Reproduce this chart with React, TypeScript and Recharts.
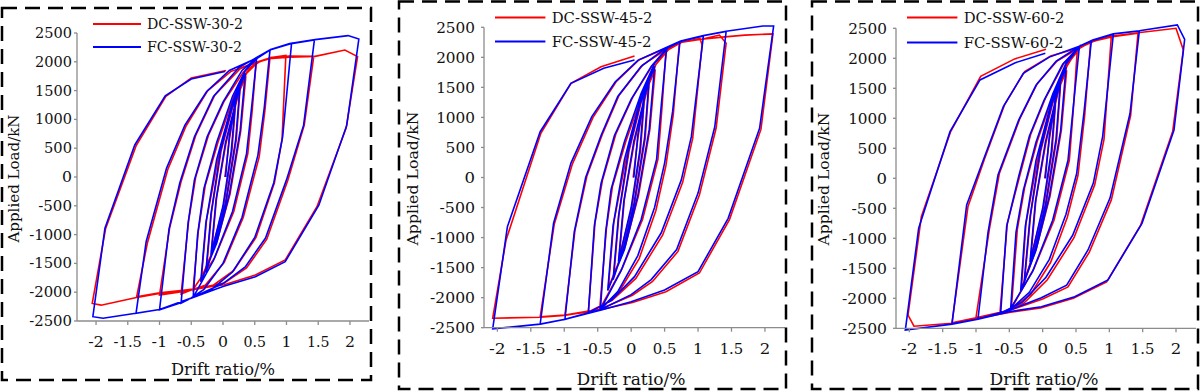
import React from 'react';
import { LineChart, Line, XAxis, YAxis } from 'recharts';

type Point = [number, number];

const driftTicks = [-2, -1.5, -1, -0.5, 0, 0.5, 1, 1.5, 2];
const loadTicks = [-2500, -2000, -1500, -1000, -500, 0, 500, 1000, 1500, 2000, 2500];

// [drift ratio %, applied load kN], in loading order
const dc30: Point[] = [
  [0.03, 0], [0.1, 650], [0.2, 1300], [0.14, 450], [0.01, -500], [-0.18, -1300], [-0.1, -350], [0.05, 600],
  [0.27, 1550], [0.21, 650], [0.05, -450], [-0.11, -1100], [-0.26, -1600], [-0.18, -600], [-0.03, 450], [0.15, 1200],
  [0.36, 1750], [0.28, 800], [0.11, -300], [-0.09, -1100], [-0.34, -1750], [-0.26, -750], [-0.08, 300], [0.17, 1300], [0.37, 1800],
  [0.52, 1960], [0.46, 1150], [0.39, 400], [0.17, -600], [-0.13, -1400], [-0.47, -1950], [-0.39, -950], [-0.28, -150], [-0.08, 600], [0.17, 1400], [0.37, 1820], [0.56, 1990],
  [0.74, 2070], [0.66, 1150], [0.57, 350], [0.32, -700], [0.02, -1480], [-0.28, -1880], [-0.5, -1960], [-0.66, -2030], [-0.54, -750], [-0.43, 0], [-0.23, 720], [0.02, 1320], [0.32, 1820], [0.55, 1990], [0.76, 2075],
  [0.99, 2110], [0.93, 650], [0.81, -100], [0.52, -1050], [0.17, -1620], [-0.18, -1900], [-0.5, -1960], [-0.7, -2000], [-1.0, -2050], [-0.84, -880], [-0.66, -80], [-0.43, 720], [-0.13, 1420], [0.27, 1880], [0.55, 2000], [0.77, 2080], [1.05, 2100],
  [1.43, 2095], [1.28, 900], [1.02, -60], [0.69, -1080], [0.37, -1580], [0.02, -1840], [-0.48, -1950], [-1.0, -2010], [-1.36, -2080], [-1.19, -1140], [-0.87, 130], [-0.58, 890], [-0.24, 1500], [0.12, 1830], [0.52, 1990], [0.77, 2060], [1.05, 2080], [1.45, 2095],
  [1.92, 2205], [2.12, 2090], [1.94, 850], [1.48, -515], [0.98, -1441], [0.51, -1700], [0.02, -1870], [-0.47, -1945], [-1.0, -2020], [-1.4, -2100], [-1.92, -2225], [-2.06, -2195], [-1.85, -900], [-1.37, 540], [-0.9, 1400], [-0.5, 1720], [0.05, 1850],
];

const fc30: Point[] = [
  [0.04, 0], [0.1, 700], [0.2, 1350], [0.13, 450], [0, -500], [-0.19, -1350], [-0.11, -400], [0.04, 600],
  [0.27, 1600], [0.2, 650], [0.04, -450], [-0.12, -1150], [-0.27, -1650], [-0.19, -650], [-0.04, 450], [0.14, 1200],
  [0.35, 1800], [0.27, 800], [0.1, -300], [-0.1, -1150], [-0.35, -1820], [-0.27, -800], [-0.1, 300], [0.15, 1300], [0.35, 1850],
  [0.53, 2066], [0.45, 1200], [0.37, 400], [0.15, -600], [-0.15, -1450], [-0.47, -2090], [-0.4, -1000], [-0.3, -200], [-0.1, 600], [0.15, 1400], [0.35, 1850], [0.55, 2070],
  [0.74, 2205], [0.65, 1200], [0.55, 380], [0.3, -700], [0, -1500], [-0.3, -1950], [-0.5, -2100], [-0.66, -2190], [-0.55, -800], [-0.45, -50], [-0.25, 700], [0, 1300], [0.3, 1850], [0.53, 2070], [0.75, 2210],
  [1.08, 2320], [0.94, 700], [0.8, -100], [0.5, -1050], [0.15, -1650], [-0.2, -1970], [-0.5, -2100], [-0.7, -2195], [-1.0, -2305], [-0.85, -900], [-0.68, -100], [-0.45, 700], [-0.15, 1400], [0.25, 1900], [0.53, 2075], [0.75, 2215], [1.05, 2310],
  [1.44, 2380], [1.27, 900], [1.0, -50], [0.67, -1060], [0.35, -1560], [0, -1850], [-0.5, -2100], [-1.0, -2300], [-1.37, -2366], [-1.21, -1120], [-0.89, 150], [-0.6, 900], [-0.26, 1480], [0.1, 1850], [0.5, 2050], [0.75, 2215], [1.05, 2315], [1.45, 2385], [1.68, 2415],
  [1.97, 2455], [2.14, 2396], [1.95, 900], [1.51, -490], [0.98, -1470], [0.51, -1730], [0, -1900], [-0.47, -2090], [-1.0, -2300], [-1.4, -2370], [-1.89, -2453], [-2.05, -2425], [-1.86, -890], [-1.39, 556], [-0.91, 1411], [-0.5, 1700], [0.03, 1830],
];

const dc45: Point[] = [
  [0.03, 0], [0.1, 650], [0.2, 1350], [0.14, 450], [0.01, -500], [-0.18, -1350], [-0.1, -350], [0.05, 600],
  [0.27, 1600], [0.21, 650], [0.05, -450], [-0.11, -1150], [-0.26, -1650], [-0.18, -600], [-0.03, 450], [0.15, 1250],
  [0.36, 1800], [0.28, 800], [0.11, -300], [-0.09, -1150], [-0.34, -1830], [-0.26, -750], [-0.08, 300], [0.17, 1350], [0.37, 1880],
  [0.52, 2100], [0.46, 1150], [0.4, 300], [0.17, -700], [-0.13, -1500], [-0.47, -2190], [-0.37, -850], [-0.28, -150], [-0.08, 600], [0.17, 1400], [0.37, 1880], [0.56, 2130],
  [0.72, 2230], [0.63, 1050], [0.52, 200], [0.37, -550], [0.12, -1350], [-0.18, -1900], [-0.47, -2190], [-0.64, -2240], [-0.54, -750], [-0.43, -50], [-0.23, 720], [0.02, 1330], [0.32, 1870], [0.55, 2140], [0.76, 2250],
  [1.03, 2316], [1.06, 2205], [0.92, 650], [0.77, -80], [0.47, -960], [0.07, -1680], [-0.28, -2040], [-0.64, -2240], [-0.99, -2290], [-0.84, -880], [-0.66, 30], [-0.43, 720], [-0.18, 1370], [0.17, 1870], [0.52, 2130], [0.76, 2250], [1.05, 2300],
  [1.32, 2371], [1.42, 2233], [1.27, 820], [1.02, -290], [0.7, -1230], [0.32, -1730], [0.02, -1960], [-0.46, -2190], [-0.99, -2290], [-1.36, -2320], [-1.15, -780], [-0.88, 220], [-0.57, 1000], [-0.22, 1600], [0.12, 1960], [0.52, 2150], [0.76, 2250], [1.05, 2300], [1.4, 2340], [1.7, 2370],
  [2.12, 2390], [1.94, 800], [1.47, -700], [1.02, -1590], [0.52, -1900], [0.02, -2080], [-0.46, -2200], [-1.0, -2295], [-1.36, -2325], [-2.07, -2343], [-1.87, -1040], [-1.35, 735], [-0.9, 1567], [-0.45, 1844], [0.05, 2022],
];

const fc45: Point[] = [
  [0.04, 0], [0.1, 700], [0.2, 1400], [0.13, 450], [0, -500], [-0.19, -1400], [-0.11, -400], [0.04, 600],
  [0.27, 1650], [0.2, 650], [0.04, -450], [-0.12, -1200], [-0.27, -1700], [-0.19, -650], [-0.04, 450], [0.14, 1250],
  [0.35, 1850], [0.27, 800], [0.1, -300], [-0.1, -1200], [-0.35, -1880], [-0.27, -800], [-0.1, 300], [0.15, 1350], [0.35, 1900],
  [0.53, 2150], [0.45, 1200], [0.38, 300], [0.15, -700], [-0.15, -1550], [-0.46, -2205], [-0.38, -900], [-0.3, -200], [-0.1, 600], [0.15, 1400], [0.35, 1900], [0.55, 2160],
  [0.73, 2260], [0.62, 1100], [0.5, 240], [0.35, -500], [0.1, -1300], [-0.2, -1900], [-0.46, -2200], [-0.64, -2250], [-0.55, -800], [-0.45, -100], [-0.25, 700], [0, 1300], [0.3, 1850], [0.53, 2150], [0.74, 2265],
  [1.08, 2355], [0.9, 680], [0.75, -40], [0.45, -920], [0.05, -1650], [-0.3, -2050], [-0.64, -2250], [-0.99, -2360], [-0.85, -900], [-0.68, 0], [-0.45, 700], [-0.2, 1350], [0.15, 1850], [0.5, 2140], [0.74, 2265], [1.08, 2360],
  [1.42, 2430], [1.25, 845], [1.0, -260], [0.68, -1200], [0.3, -1700], [0, -1950], [-0.46, -2200], [-0.99, -2360], [-1.36, -2438], [-1.16, -760], [-0.9, 240], [-0.59, 1010], [-0.24, 1590], [0.1, 1950], [0.5, 2150], [0.74, 2270], [1.08, 2365], [1.42, 2435],
  [1.97, 2521], [2.13, 2521], [1.92, 818], [1.45, -680], [1.0, -1567], [0.5, -1872], [0, -2067], [-0.46, -2210], [-1.0, -2365], [-1.36, -2440], [-2.07, -2520], [-1.85, -818], [-1.36, 762], [-0.9, 1567], [-0.41, 1817], [0.05, 1955],
];

const dc60: Point[] = [
  [0.03, 0], [0.1, 650], [0.2, 1350], [0.14, 450], [0.01, -500], [-0.18, -1350], [-0.1, -350], [0.05, 600],
  [0.27, 1600], [0.21, 650], [0.05, -450], [-0.11, -1150], [-0.27, -1700], [-0.18, -600], [-0.03, 450], [0.15, 1250],
  [0.36, 1800], [0.28, 800], [0.11, -300], [-0.09, -1150], [-0.32, -1850], [-0.25, -750], [-0.08, 300], [0.17, 1350], [0.37, 1880],
  [0.52, 2150], [0.46, 1150], [0.4, 300], [0.17, -700], [-0.13, -1500], [-0.47, -2170], [-0.38, -850], [-0.27, -150], [-0.08, 620], [0.17, 1420], [0.37, 1900], [0.56, 2170],
  [0.72, 2270], [0.63, 1050], [0.53, 50], [0.37, -650], [0.12, -1400], [-0.18, -1930], [-0.47, -2180], [-0.64, -2240], [-0.53, -750], [-0.34, 60], [-0.18, 730], [0.04, 1330], [0.32, 1920], [0.56, 2180], [0.76, 2280],
  [1.03, 2370], [0.92, 650], [0.78, -110], [0.47, -990], [0.07, -1690], [-0.28, -2080], [-0.64, -2245], [-1.0, -2320], [-0.8, -850], [-0.65, 80], [-0.34, 1000], [-0.08, 1580], [0.22, 1960], [0.56, 2180], [0.76, 2285], [1.05, 2360],
  [1.43, 2420], [1.32, 1050], [1.03, -360], [0.7, -1230], [0.38, -1810], [0, -2010], [-0.47, -2190], [-1.0, -2325], [-1.36, -2410], [-1.12, -470], [-0.87, 330], [-0.57, 1230], [-0.27, 1780], [0.12, 2040], [0.56, 2180], [0.76, 2290], [1.05, 2370], [1.43, 2425],
  [2.0, 2500], [2.11, 2140], [1.95, 780], [1.47, -780], [0.96, -1725], [0.46, -2000], [-0.03, -2160], [-0.48, -2230], [-0.97, -2330], [-1.36, -2415], [-1.93, -2465], [-2.02, -2280], [-1.82, -640], [-1.38, 780], [-0.93, 1700], [-0.42, 1990], [0.05, 2150],
];

const fc60: Point[] = [
  [0.04, 0], [0.1, 700], [0.2, 1400], [0.13, 450], [0, -500], [-0.19, -1400], [-0.11, -400], [0.04, 600],
  [0.27, 1650], [0.2, 650], [0.04, -450], [-0.12, -1200], [-0.28, -1750], [-0.19, -650], [-0.04, 450], [0.14, 1250],
  [0.35, 1850], [0.27, 800], [0.1, -300], [-0.1, -1200], [-0.33, -1880], [-0.26, -800], [-0.1, 300], [0.15, 1350], [0.35, 1900],
  [0.55, 2193], [0.46, 1200], [0.38, 300], [0.15, -700], [-0.15, -1550], [-0.48, -2170], [-0.4, -900], [-0.29, -200], [-0.1, 600], [0.15, 1400], [0.35, 1920], [0.55, 2195],
  [0.73, 2290], [0.62, 1100], [0.51, 80], [0.35, -600], [0.1, -1350], [-0.2, -1900], [-0.48, -2180], [-0.63, -2250], [-0.54, -800], [-0.36, 30], [-0.2, 700], [0.02, 1300], [0.3, 1900], [0.55, 2200], [0.75, 2295],
  [1.06, 2400], [0.9, 700], [0.76, -80], [0.45, -950], [0.05, -1650], [-0.3, -2060], [-0.63, -2250], [-0.97, -2340], [-0.82, -900], [-0.67, 55], [-0.36, 970], [-0.1, 1550], [0.2, 1950], [0.55, 2200], [0.75, 2300], [1.06, 2405],
  [1.45, 2455], [1.31, 1080], [1.01, -330], [0.68, -1195], [0.36, -1780], [-0.02, -1990], [-0.48, -2190], [-0.97, -2345], [-1.36, -2425], [-1.14, -445], [-0.89, 305], [-0.59, 1194], [-0.29, 1750], [0.1, 2020], [0.55, 2200], [0.75, 2305], [1.06, 2410], [1.45, 2460],
  [2.02, 2555], [2.13, 2317], [1.97, 805], [1.49, -750], [0.98, -1695], [0.48, -1974], [-0.02, -2140], [-0.48, -2220], [-0.97, -2350], [-1.36, -2430], [-2.06, -2530], [-1.86, -833], [-1.39, 777], [-0.94, 1639], [-0.41, 1927], [0.04, 2084],
];

const rows = (pts: Point[]) => pts.map(([drift, load]) => ({ drift, load }));

const FONT = '"DejaVu Serif", serif';
const AXIS = '#8c8c8c';
const INK = '#111';
const RED = '#ff0000';
const BLUE = '#0000ff';
const H = 392;

// advance widths of the tick glyphs, so every label keeps the same set width
const glyphW = (ch: string) => (ch === '-' ? 5.8 : ch === '.' ? 3.5 : 9);
const labelLength = (s: string, k: number) => (Array.from(s).reduce((w, ch) => w + glyphW(ch), 0) + 1) * k;

function makeTick(axis: 'x' | 'y', k: number) {
  return (props: any) => {
    const { x, y, payload } = props;
    const s = String(payload.value);
    return (
      <text
        x={x}
        y={y}
        dy={axis === 'x' ? '0.71em' : '0.355em'}
        textAnchor={axis === 'x' ? 'middle' : 'end'}
        fontFamily={FONT}
        fontSize={14 * k}
        fill={INK}
        textLength={labelLength(s, k)}
        lengthAdjust="spacingAndGlyphs"
      >
        {s}
      </text>
    );
  };
}

interface PanelSpec {
  left: number;
  width: number;
  axisX: number;
  plotRight: number;
  plotTop: number;
  plotBottom: number;
  xDomain: [number, number];
  xTickMargin: number;
  yTickMargin: number;
  k: number;
  dc: Point[];
  fc: Point[];
}

function HysteresisPanel(p: PanelSpec) {
  return (
    <div style={{ position: 'absolute', left: p.left, top: 0 }}>
      <LineChart
        width={p.width}
        height={H}
        margin={{ top: p.plotTop, right: p.left + p.width - p.plotRight, bottom: H - p.plotBottom - 40, left: 0 }}
      >
        <XAxis
          type="number"
          dataKey="drift"
          domain={p.xDomain}
          ticks={driftTicks}
          interval={0}
          height={40}
          tickSize={4}
          tickMargin={p.xTickMargin}
          stroke={AXIS}
          strokeWidth={1.3}
          tick={makeTick('x', p.k)}
        />
        <YAxis
          type="number"
          domain={[-2500, 2500]}
          ticks={loadTicks}
          allowDataOverflow
          interval={0}
          width={p.axisX - p.left}
          tickSize={3}
          tickMargin={p.yTickMargin}
          stroke={AXIS}
          strokeWidth={1.3}
          tick={makeTick('y', p.k)}
        />
        <Line data={rows(p.dc)} dataKey="load" stroke={RED} strokeWidth={1.6} dot={false} isAnimationActive={false} />
        <Line data={rows(p.fc)} dataKey="load" stroke={BLUE} strokeWidth={1.6} dot={false} isAnimationActive={false} />
      </LineChart>
    </div>
  );
}

// frame, legend and axis titles for each panel
const frames = [
  { x: 2, y: 8, w: 369, h: 372 },
  { x: 399, y: 1.5, w: 387, h: 387.5 },
  { x: 812, y: 1.5, w: 386, h: 387.5 },
];
const legends = [
  { x: 93, y1: 24, y2: 47, k: 1, names: ['DC-SSW-30-2', 'FC-SSW-30-2'] },
  { x: 495, y1: 17.5, y2: 41.5, k: 1.05, names: ['DC-SSW-45-2', 'FC-SSW-45-2'] },
  { x: 907, y1: 17.5, y2: 42.5, k: 1.05, names: ['DC-SSW-60-2', 'FC-SSW-60-2'] },
];
const yTitles = [
  { x: 15, y: 178.5, len: 128, k: 1 },
  { x: 413.5, y: 178.5, len: 134, k: 1.05 },
  { x: 825, y: 179, len: 133, k: 1.05 },
];
const xTitles = [
  { x: 223, y: 375, len: 104, k: 1 },
  { x: 631, y: 385, len: 109, k: 1.05 },
  { x: 1044, y: 385, len: 109, k: 1.05 },
];

export default function App() {
  return (
    <div style={{ position: 'absolute', left: 0, top: 0, width: 1200, height: H, background: '#fff', overflow: 'hidden' }}>
      {/* let the loops run a little past the ±2500 ticks, as plotted */}
      <style>{'.recharts-line, .recharts-line [clip-path] { clip-path: none; }'}</style>
      <HysteresisPanel left={0} width={372} axisX={77} plotRight={369} plotTop={33} plotBottom={321}
        xDomain={[-2.3, 2.3]} xTickMargin={12} yTickMargin={2} k={1} dc={dc30} fc={fc30} />
      <HysteresisPanel left={398} width={390} axisX={484} plotRight={785} plotTop={27.3} plotBottom={327.7}
        xDomain={[-2.2, 2.3]} xTickMargin={12} yTickMargin={6} k={1.05} dc={dc45} fc={fc45} />
      <HysteresisPanel left={810} width={390} axisX={896} plotRight={1196} plotTop={28.3} plotBottom={328.3}
        xDomain={[-2.2, 2.3]} xTickMargin={11} yTickMargin={6} k={1.05} dc={dc60} fc={fc60} />
      <svg width={1200} height={H} style={{ position: 'absolute', left: 0, top: 0, pointerEvents: 'none' }}>
        {frames.map((f, i) => (
          <rect key={`f${i}`} x={f.x} y={f.y} width={f.w} height={f.h} fill="none" stroke="#000" strokeWidth={2.5} strokeDasharray="15 8" />
        ))}
        {legends.map((l, i) => (
          <g key={`l${i}`} fontFamily={FONT} fontSize={14.5 * l.k} fill={INK}>
            <line x1={l.x} x2={l.x + 48 * l.k} y1={l.y1} y2={l.y1} stroke={RED} strokeWidth={2} />
            <text x={l.x + 54 * l.k} y={l.y1 + 5} textLength={96 * l.k} lengthAdjust="spacingAndGlyphs">{l.names[0]}</text>
            <line x1={l.x} x2={l.x + 48 * l.k} y1={l.y2} y2={l.y2} stroke={BLUE} strokeWidth={2} />
            <text x={l.x + 54 * l.k} y={l.y2 + 5} textLength={95 * l.k} lengthAdjust="spacingAndGlyphs">{l.names[1]}</text>
          </g>
        ))}
        {yTitles.map((t, i) => (
          <text key={`y${i}`} transform={`translate(${t.x},${t.y}) rotate(-90)`} y={4} textAnchor="middle"
            fontFamily={FONT} fontSize={14 * t.k} fill={INK} textLength={t.len} lengthAdjust="spacingAndGlyphs">
            Applied Load/kN
          </text>
        ))}
        {xTitles.map((t, i) => (
          <text key={`x${i}`} x={t.x} y={t.y} textAnchor="middle" fontFamily={FONT} fontSize={16.5 * t.k} fill={INK}
            textLength={t.len} lengthAdjust="spacingAndGlyphs">
            Drift ratio/%
          </text>
        ))}
      </svg>
    </div>
  );
}
